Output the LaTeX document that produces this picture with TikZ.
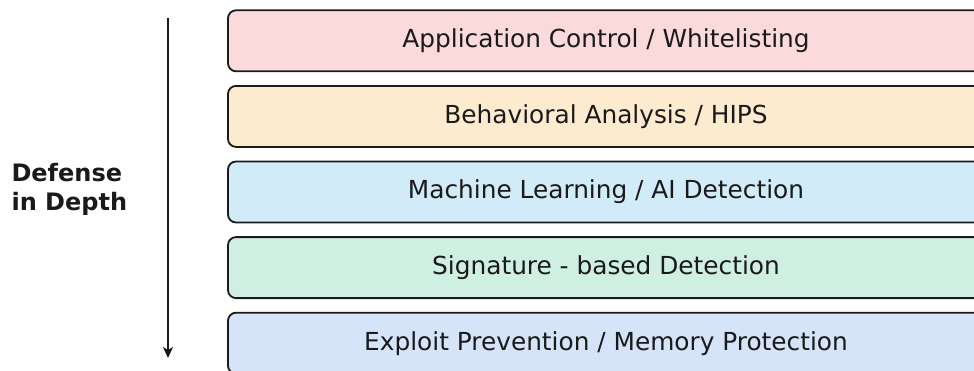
\documentclass[tikz,border=0pt]{standalone}
\usepackage{fontspec}
\setmainfont{DejaVu Sans}
\usetikzlibrary{arrows.meta}
\definecolor{appPink}{HTML}{FBDADB}
\definecolor{behavOrange}{HTML}{FDEBD0}
\definecolor{mlBlue}{HTML}{D2EBF8}
\definecolor{sigGreen}{HTML}{CFEFE3}
\definecolor{exploitBlue}{HTML}{D6E4FA}
\definecolor{inkDark}{HTML}{1A1A1A}
\tikzset{
	layerBox/.style={draw=inkDark, line width=1.8pt, rounded corners=8pt,
		minimum width=756pt, minimum height=61pt, inner sep=0pt,
		text=inkDark, font=\fontsize{24.8}{29}\selectfont},
	depthText/.style={align=left, anchor=west, text=inkDark, font=\fontsize{24}{29}\selectfont\bfseries}
}
\newcommand{\defenseLayer}[4]{
	%one layer of the stack, #2 counts from the top
	\node[layerBox, fill=#3] (#1) at (606, {40.8+#2*75.6}) {#4};
}

\begin{document}
\begin{tikzpicture}[x=1pt, y=-1pt]
	\useasboundingbox (0,0) rectangle (974,370);
	\clip (0,0) rectangle (974,370);

	%stack of layers, outermost first
	\defenseLayer{appControl}{0}{appPink}{Application Control / Whitelisting}
	\defenseLayer{behavHips}{1}{behavOrange}{Behavioral Analysis / HIPS}
	\defenseLayer{mlDetect}{2}{mlBlue}{Machine Learning / AI Detection}
	\defenseLayer{sigDetect}{3}{sigGreen}{Signature - based Detection}
	\defenseLayer{exploitPrev}{4}{exploitBlue}{Exploit Prevention / Memory Protection}

	%depth arrow and its label
	\coordinate (arrowTop) at (168,18);
	\coordinate (arrowTip) at (168,358);
	\draw[inkDark, line width=1.8pt, -{Stealth[length=11pt, width=10pt, inset=3pt]}] (arrowTop) -- (arrowTip);
	\node[depthText] (depthLabel) at (8,189) {Defense\\in Depth};
\end{tikzpicture}
\end{document}
